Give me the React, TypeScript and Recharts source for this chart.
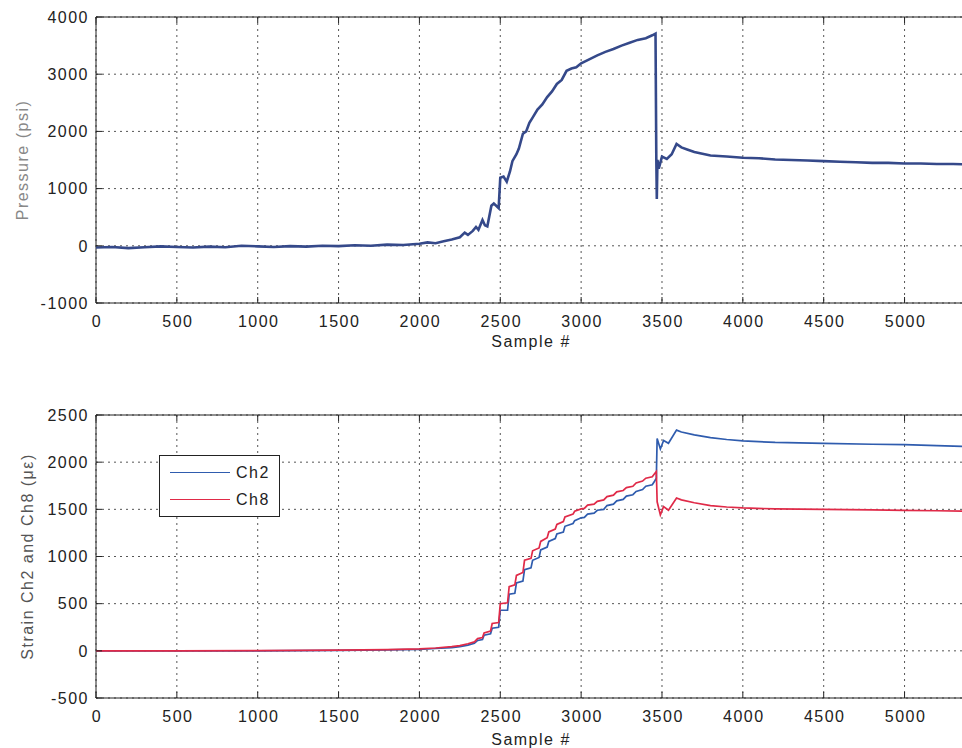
import React from "react";
import {
  LineChart,
  Line,
  XAxis,
  YAxis,
  CartesianGrid,
  Legend,
  ReferenceArea,
} from "recharts";

// sample # ticks shared by both plots
const sampleTicks = [0, 500, 1000, 1500, 2000, 2500, 3000, 3500, 4000, 4500, 5000];
const pressureTicks = [-1000, 0, 1000, 2000, 3000, 4000];
const strainTicks = [-500, 0, 500, 1000, 1500, 2000, 2500];
const X_MAX = 5380;

// pressure trace (psi)
const pressureSample = [
  0, 100, 200, 300, 400, 500, 600, 700, 800, 900, 1000, 1100, 1200, 1300, 1400,
  1500, 1600, 1700, 1800, 1900, 2000, 2050, 2100, 2150, 2200, 2250, 2280, 2300,
  2330, 2350, 2365, 2390, 2405, 2420, 2445, 2460, 2490, 2500, 2520, 2540, 2560,
  2575, 2600, 2615, 2640, 2660, 2680, 2700, 2730, 2760, 2790, 2820, 2850, 2880,
  2910, 2940, 2970, 3000, 3050, 3100, 3150, 3200, 3250, 3300, 3350, 3400, 3440,
  3460, 3465, 3468, 3472, 3480, 3500, 3530, 3560, 3590, 3620, 3660, 3700, 3750,
  3800, 3900, 4000, 4100, 4200, 4300, 4400, 4500, 4600, 4700, 4800, 4900, 5000,
  5100, 5200, 5300, 5380,
];
const pressurePsi = [
  -30, -20, -40, -25, -10, -20, -30, -15, -25, 0, -10, -20, -5, -15, 0,
  -5, 10, 0, 20, 15, 35, 60, 45, 80, 110, 150, 230, 190,
  260, 330, 280, 450, 360, 340, 700, 740, 660, 1190, 1210, 1120, 1300,
  1480, 1600, 1700, 1960, 2000, 2150, 2240, 2380, 2470, 2600, 2700, 2830, 2900,
  3060, 3100, 3120, 3190, 3260, 3330, 3390, 3440, 3500, 3550, 3600, 3630, 3680,
  3710, 1500, 820, 1500, 1350, 1560, 1520, 1600, 1780, 1720, 1680, 1640, 1610,
  1580, 1560, 1540, 1530, 1510, 1500, 1490, 1480, 1470, 1460, 1450, 1450, 1440,
  1440, 1430, 1430, 1425,
];

// strain traces (microstrain)
const strainSample = [
  0, 500, 1000, 1500, 1800, 2000, 2100, 2200, 2250, 2300, 2340, 2360, 2390, 2400,
  2440, 2450, 2490, 2500, 2545, 2555, 2590, 2600, 2640, 2650, 2690, 2700, 2740,
  2750, 2790, 2800, 2840, 2850, 2890, 2900, 2950, 2960, 3000, 3020, 3040, 3080,
  3100, 3140, 3160, 3200, 3220, 3260, 3280, 3320, 3340, 3380, 3400, 3440, 3455,
  3465, 3470, 3490, 3510, 3540, 3590, 3620, 3700, 3800, 3900, 4000, 4200, 4500,
  4800, 5000, 5200, 5380,
];
const ch2 = [
  0, 0, 0, 5, 10, 15, 25, 35, 45, 60, 80, 110, 120, 165,
  180, 240, 250, 430, 430, 600, 610, 720, 740, 860, 880, 960, 990,
  1070, 1100, 1160, 1190, 1240, 1260, 1320, 1350, 1380, 1410, 1415, 1450, 1460,
  1490, 1500, 1540, 1555, 1590, 1605, 1640, 1655, 1690, 1710, 1745, 1760, 1800,
  1830, 2250, 2140, 2230, 2200, 2340, 2320, 2290, 2260, 2240, 2225, 2210, 2200,
  2190, 2185, 2175, 2165,
];
const ch8 = [
  0, 0, 2, 8, 12, 20, 30, 45, 55, 75, 95, 130, 140, 190,
  210, 290, 300, 500, 510, 680, 700, 800, 830, 960, 980, 1060, 1090,
  1160, 1200, 1260, 1290, 1340, 1370, 1420, 1450, 1480, 1505, 1510, 1545, 1555,
  1585, 1600, 1635, 1650, 1685, 1700, 1730, 1745, 1780, 1800, 1830, 1845, 1880,
  1900, 1580, 1440, 1530, 1490, 1620, 1600, 1570, 1540, 1525, 1515, 1505, 1500,
  1495, 1490, 1485, 1480,
];

const pressureData = pressureSample.map((s, i) => ({ sample: s, psi: pressurePsi[i] }));
const strainData = strainSample.map((s, i) => ({ sample: s, ch2: ch2[i], ch8: ch8[i] }));

const FONT = "'Liberation Sans', Arial, Helvetica, sans-serif";
const textStyle = { fontFamily: FONT, fontSize: 16, letterSpacing: 1.5, fill: "#222" };

const PLOT_LEFT = 96;

function makeXTick(top: number, bottom: number) {
  return (props: any) => {
    const { x, payload } = props;
    return (
      <g>
        <line x1={x} x2={x} y1={bottom} y2={bottom - 6} stroke="#222" />
        <line x1={x} x2={x} y1={top} y2={top + 6} stroke="#222" />
        <text x={x + 1} y={bottom + 24} textAnchor="middle" style={textStyle}>
          {payload.value}
        </text>
      </g>
    );
  };
}

function YTick(props: any) {
  const { y, payload } = props;
  return (
    <g>
      <line x1={PLOT_LEFT} x2={PLOT_LEFT + 6} y1={y} y2={y} stroke="#222" />
      <text x={89} y={y} dy="0.36em" textAnchor="end" style={textStyle}>
        {payload.value}
      </text>
    </g>
  );
}

function StrainLegend(props: any) {
  const items = props.payload || [];
  return (
    <div
      style={{
        width: 121,
        height: 62,
        boxSizing: "border-box",
        border: "1px solid #222",
        background: "#fff",
        position: "relative",
      }}
    >
      {items.map((it: any, i: number) => (
        <div key={it.value} style={{ position: "absolute", left: 10, top: 6 + i * 27, height: 22 }}>
          <div
            style={{
              position: "absolute",
              left: 0,
              top: 10,
              width: 60,
              height: 0,
              borderTop: `1.5px solid ${it.color}`,
            }}
          />
          <span
            style={{
              position: "absolute",
              left: 66,
              top: 0,
              fontFamily: FONT,
              fontSize: 16,
              letterSpacing: 1.5,
              color: "#222",
              lineHeight: "22px",
            }}
          >
            {it.value}
          </span>
        </div>
      ))}
    </div>
  );
}

export default function App() {
  return (
    <div
      style={{
        position: "absolute",
        left: 0,
        top: 0,
        width: 962,
        height: 748,
        overflow: "hidden",
        background: "#fff",
      }}
    >
      <div style={{ position: "absolute", left: 0, top: 0 }}>
        <LineChart
          width={970}
          height={350}
          data={pressureData}
          margin={{ top: 17, right: 4, bottom: 0, left: 0 }}
        >
          <CartesianGrid strokeDasharray="2 4" stroke="#555" />
          <XAxis
            type="number"
            dataKey="sample"
            domain={[0, X_MAX]}
            ticks={sampleTicks}
            height={47}
            axisLine={false}
            tickLine={false}
            tick={makeXTick(17, 303)}
            label={{
              value: "Sample #",
              position: "insideBottom",
              offset: 3,
              style: { ...textStyle },
            }}
          />
          <YAxis
            type="number"
            domain={[-1000, 4000]}
            ticks={pressureTicks}
            width={96}
            axisLine={false}
            tickLine={false}
            tick={<YTick />}
            label={{
              value: "Pressure (psi)",
              angle: -90,
              position: "insideLeft",
              offset: 22,
              style: { ...textStyle, fill: "#888", textAnchor: "middle" },
            }}
          />
          <ReferenceArea
            x1={0}
            x2={X_MAX}
            y1={-1000}
            y2={4000}
            fill="none"
            stroke="#222"
            strokeWidth={1}
          />
          <Line
            type="linear"
            dataKey="psi"
            stroke="#35498a"
            strokeWidth={2.6}
            dot={false}
            isAnimationActive={false}
          />
        </LineChart>
      </div>
      <div style={{ position: "absolute", left: 0, top: 400 }}>
        <LineChart
          width={970}
          height={348}
          data={strainData}
          margin={{ top: 15, right: 4, bottom: 0, left: 0 }}
        >
          <CartesianGrid strokeDasharray="2 4" stroke="#555" />
          <XAxis
            type="number"
            dataKey="sample"
            domain={[0, X_MAX]}
            ticks={sampleTicks}
            height={50}
            axisLine={false}
            tickLine={false}
            tick={makeXTick(15, 298)}
            label={{
              value: "Sample #",
              position: "insideBottom",
              offset: 3,
              style: { ...textStyle },
            }}
          />
          <YAxis
            type="number"
            domain={[-500, 2500]}
            ticks={strainTicks}
            width={96}
            axisLine={false}
            tickLine={false}
            tick={<YTick />}
            label={{
              value: "Strain Ch2 and Ch8 (με)",
              angle: -90,
              position: "insideLeft",
              offset: 27,
              style: { ...textStyle, fill: "#555", textAnchor: "middle" },
            }}
          />
          <ReferenceArea
            x1={0}
            x2={X_MAX}
            y1={-500}
            y2={2500}
            fill="none"
            stroke="#222"
            strokeWidth={1}
          />
          <Line
            type="linear"
            dataKey="ch2"
            name="Ch2"
            stroke="#2f5cae"
            strokeWidth={1.7}
            dot={false}
            isAnimationActive={false}
          />
          <Line
            type="linear"
            dataKey="ch8"
            name="Ch8"
            stroke="#e02a48"
            strokeWidth={1.7}
            dot={false}
            isAnimationActive={false}
          />
          <Legend
            layout="vertical"
            align="center"
            verticalAlign="middle"
            content={<StrainLegend />}
            wrapperStyle={{ position: "absolute", left: 159, top: 55, width: 121, height: 62 }}
          />
        </LineChart>
      </div>
    </div>
  );
}
